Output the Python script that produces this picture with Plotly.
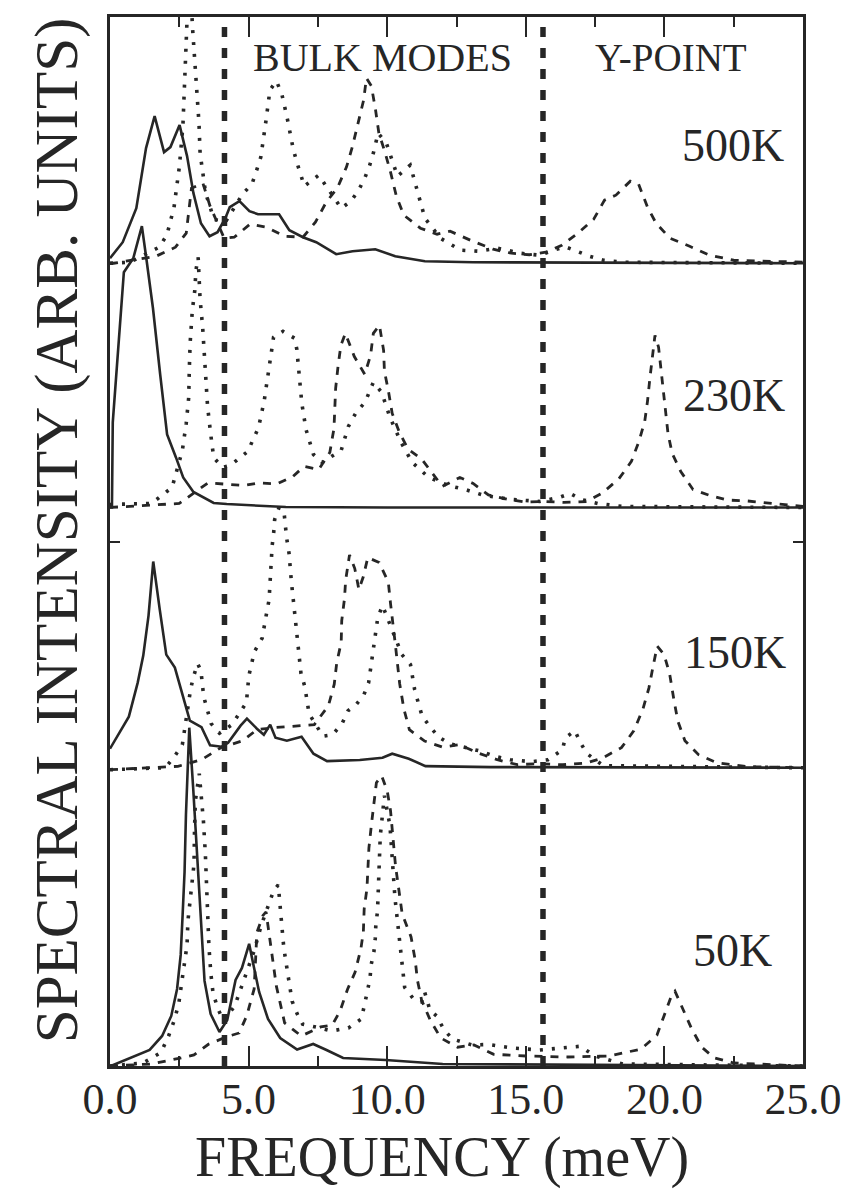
import numpy as np
import plotly.graph_objects as go

# ---- spectra: frequency (meV) and intensity above each panel's baseline (arb. units) ----
# 500 K
f500_solid = [0.0, 0.46, 0.95, 1.30, 1.61, 1.95, 2.18, 2.51, 2.78, 3.01, 3.28, 3.59, 3.88, 4.16, 4.32, 4.67,
              5.03, 5.34, 6.10, 6.47, 6.96, 7.44, 8.16, 8.75, 9.57, 10.29, 11.36, 13.1, 25.0]
i500_solid = [5, 21, 55, 115, 147, 111, 116, 138, 107, 70, 40, 27, 31, 45, 56, 62,
              52, 49, 49, 33, 26, 21, 9, 12, 14, 7, 2, 1, 0]
f500_dot = [0.0, 0.72, 1.77, 2.05, 2.31, 2.50, 2.63, 2.69, 2.74, 2.86, 2.98, 3.09, 3.21, 3.25, 3.45, 3.75,
            4.16, 4.78, 5.12, 5.28, 5.44, 5.63, 5.77, 6.00, 6.19, 6.40, 6.61, 6.75, 7.01, 7.53, 7.84, 8.34,
            8.69, 8.97, 9.19, 9.37, 9.51, 9.67, 9.97, 10.37, 10.83, 10.96, 11.1, 11.22, 11.36, 11.92, 12.65,
            13.3, 14.0, 14.8, 15.5, 15.96, 16.42, 16.84, 17.3, 17.8, 18.5, 25.0]
i500_dot = [0, 1, 16, 28, 56, 96, 137, 180, 235, 300, 234, 194, 140, 110, 70, 44,
            41, 69, 79, 92, 106, 143, 173, 182, 170, 144, 114, 100, 77, 88, 75, 55,
            62, 73, 85, 98, 111, 130, 120, 87, 98, 85, 71, 58, 45, 25, 13,
            12, 15, 10, 8, 12.6, 16.5, 12, 7, 3, 1, 0]
f500_dash = [0.0, 0.13, 1.66, 2.36, 2.75, 2.94, 3.35, 3.61, 4.12, 4.48, 5.05, 5.64, 6.31, 6.96, 7.41, 7.80,
             8.20, 8.53, 8.74, 8.95, 9.15, 9.25, 9.43, 9.58, 9.70, 9.93, 10.13, 10.33, 10.60, 11.2, 11.8,
             12.27, 13.0, 13.82, 14.48, 15.13, 15.72, 16.3, 16.88, 17.45, 17.84, 18.25, 18.77, 19.07, 19.39,
             19.70, 20.2, 20.91, 21.63, 22.5, 25.0]
i500_dash = [0, 0, 7, 16, 30, 75, 80, 57, 25, 26, 39, 36, 27, 26, 41, 61,
             75, 96, 116, 139, 163, 185, 177, 153, 130, 110, 90, 67, 48, 35, 29,
             32, 23, 14, 10, 8.5, 11, 18, 30, 44, 63, 68, 82, 79, 56,
             40, 25, 17, 8, 3, 1]

# 230 K
f230_solid = [0.0, 0.07, 0.10, 0.50, 0.84, 1.15, 1.31, 1.55, 1.81, 2.06, 2.38, 2.64, 3.01, 3.74, 4.21, 6.34,
              10.0, 25.0]
i230_solid = [0, 0, 85, 235, 249, 281, 249, 199, 133, 73, 50, 30, 15.5, 4.5, 3.4, 0.4,
              0, 0]
f230_dot = [0.0, 1.5, 2.24, 2.61, 2.75, 2.84, 2.86, 2.89, 2.97, 3.06, 3.10, 3.18, 3.25, 3.34, 3.43, 3.52,
            3.63, 3.74, 4.05, 4.34, 4.97, 5.36, 5.56, 5.75, 5.90, 6.24, 6.66, 6.74, 6.83, 6.92, 7.07, 7.34,
            7.65, 8.34, 8.60, 8.88, 9.20, 9.50, 9.80, 10.1, 10.5, 10.9, 11.5, 12.2, 12.8, 13.5, 14.5, 15.5,
            16.2, 16.6, 17.0, 17.6, 18.5, 25.0]
i230_dot = [3, 4, 20, 57, 84, 110, 137, 164, 197, 217, 237, 250, 208, 181, 141, 101,
            74, 50, 40, 42, 56, 80, 106, 145, 170, 176, 169, 158, 131, 104, 78, 53,
            45, 57, 81, 95, 105, 125, 115, 90, 65, 45, 30, 22, 18, 12, 8, 6,
            10, 14, 8, 4, 1, 0]
f230_dash = [0.0, 2.5, 3.53, 4.3, 4.83, 5.36, 6.02, 6.6, 7.0, 7.53, 7.93, 8.08, 8.14, 8.23, 8.33, 8.49,
             8.81, 9.19, 9.40, 9.50, 9.72, 9.87, 9.90, 10.04, 10.18, 10.44, 10.76, 11.24, 11.61, 11.99, 12.62,
             13.1, 13.65, 14.37, 14.96, 15.67, 16.38, 17.2, 17.78, 18.36, 18.81, 19.08, 19.29, 19.39, 19.48,
             19.57, 19.66, 19.79, 19.88, 20.0, 20.13, 20.28, 20.59, 21.03, 21.63, 22.28, 23.0, 25.0]
i230_dash = [0, 4, 24.5, 23, 22, 24.5, 23.5, 31, 41, 38, 55, 79, 119, 142, 162, 174,
             151, 133, 152, 174, 182, 157, 136, 117, 94, 75, 58, 48.5, 35.5, 21, 30,
             24, 12.5, 8, 5.4, 6, 5, 5.9, 14.8, 28.7, 46, 66, 86, 106, 130,
             150, 172, 160, 137, 110, 74, 54, 36, 18, 12, 7.4, 6.5, 1]

# 150 K
f150_solid = [0.0, 0.68, 1.0, 1.2, 1.39, 1.56, 1.79, 2.03, 2.34, 2.61, 2.88, 3.30, 3.61, 4.03, 4.26, 4.71,
              4.94, 5.30, 5.55, 5.78, 5.97, 6.38, 6.68, 6.91, 7.34, 7.83, 9.01, 9.83, 10.18, 10.78, 11.38,
              13.74, 25.0]
i150_solid = [21, 53, 87, 114, 154, 208, 161, 115, 102, 75, 49, 42.5, 24.5, 23, 27, 44,
              51, 41, 35, 45, 32, 29, 31, 33, 16, 8.6, 9.7, 12, 16, 11, 3.6,
              2.6, 2]
f150_dot = [0.0, 2.0, 2.32, 2.61, 2.9, 3.0, 3.16, 3.28, 3.38, 3.51, 3.65, 3.95, 4.4, 4.92, 5.01, 5.21,
            5.49, 5.64, 5.74, 5.77, 5.79, 5.81, 5.85, 5.90, 5.94, 6.1, 6.29, 6.37, 6.46, 6.54, 6.63, 6.71,
            6.80, 6.89, 7.03, 7.18, 7.68, 8.03, 8.37, 8.59, 8.88, 9.16, 9.33, 9.47, 9.57, 9.66, 9.83, 10.1,
            10.53, 10.84, 10.92, 10.99, 11.12, 11.26, 11.57, 11.87, 12.24, 12.66, 13.3, 13.97, 14.44, 15.2,
            15.8, 16.32, 16.43, 16.77, 16.97, 17.21, 17.8, 25.0]
i150_dot = [0, 2, 13, 25, 79, 92, 106, 99, 73, 60, 46, 36.5, 45, 67, 94, 118,
            131.5, 155, 170, 185, 197, 210, 224, 235, 250, 262, 254, 232, 216, 189, 166, 149,
            123, 96, 83, 56, 33.5, 35, 46, 59, 65, 75, 87, 114, 129, 152, 164, 145,
            115, 105, 93, 80, 67, 53.5, 42, 32.5, 26, 23, 19, 12.8, 10, 8,
            10, 20, 32, 39, 27, 16, 4, 2]
f150_dash = [0.0, 1.75, 2.45, 3.3, 4.0, 4.79, 5.3, 5.9, 6.96, 7.37, 7.88, 8.09, 8.18, 8.34, 8.36, 8.46,
             8.50, 8.64, 8.83, 8.98, 9.14, 9.30, 9.71, 10.04, 10.12, 10.2, 10.29, 10.37, 10.45, 10.6, 10.8,
             11.35, 12.0, 12.6, 13.25, 13.97, 14.69, 15.4, 16.34, 17.17, 17.75, 18.45, 18.9, 19.23, 19.44,
             19.59, 19.74, 19.99, 20.19, 20.33, 20.48, 20.74, 21.23, 21.89, 23.0, 25.0]
i150_dash = [0, 2.7, 3.4, 10, 22, 29, 40, 42, 44, 45, 64, 85.5, 107, 127, 149, 171,
             189, 214.6, 201, 180, 193, 212, 207, 187.5, 166, 149, 126, 106, 86, 61, 40,
             28.6, 22.6, 25, 17, 10, 5, 6, 5, 6.6, 11.5, 22, 39, 61, 81.5,
             103, 123.5, 115, 95.6, 72, 49, 29, 15, 7, 3, 2]

# 50 K
f50_solid = [0.03, 0.85, 1.43, 1.88, 2.21, 2.42, 2.55, 2.62, 2.69, 2.74, 2.77, 2.86, 3.0, 3.14, 3.28, 3.41,
             3.63, 3.95, 4.23, 4.53, 4.76, 5.02, 5.16, 5.38, 5.70, 6.14, 6.75, 7.33, 7.81, 8.41, 9.94, 12.0,
             25.0]
i50_solid = [0, 9, 16, 30, 50, 77, 111, 151, 194, 251, 278, 338, 278, 212, 145, 85,
             52, 34, 46, 86, 98, 122, 103, 74, 47, 28, 16.5, 22, 16, 8, 6, 2,
             0]
f50_dot = [0.0, 1.2, 1.84, 2.12, 2.34, 2.49, 2.59, 2.68, 2.78, 2.81, 2.90, 3.03, 3.05, 3.08, 3.22, 3.31,
           3.37, 3.44, 3.48, 3.52, 3.57, 3.64, 3.72, 3.92, 4.1, 4.5, 4.9, 5.2, 5.45, 5.7, 5.9, 6.07,
           6.18, 6.27, 6.42, 6.57, 6.76, 6.95, 7.43, 8.0, 8.6, 9.07, 9.28, 9.38, 9.42, 9.52, 9.57, 9.59,
           9.65, 9.68, 9.75, 9.9, 10.1, 10.28, 10.37, 10.46, 10.5, 10.55, 10.63, 10.94, 11.24, 11.35, 11.54,
           11.79, 12.04, 12.35, 13.06, 13.65, 14.5, 15.5, 16.3, 16.96, 17.5, 18.5, 25.0]
i50_dot = [0, 3, 13.5, 30.4, 47.3, 64, 84, 101, 121, 144.6, 168, 201.5, 238, 265, 292, 268.5,
           245, 212, 178.6, 145, 118.6, 92, 72, 55.5, 45, 60, 90, 115, 140, 160, 175, 181,
           144, 118, 91, 64.7, 51.6, 41.8, 38.9, 35, 38, 47, 74, 87.5, 101, 114, 127.7, 141,
           154.5, 181, 230, 270, 240, 168, 145, 125, 112, 98.6, 78.6, 67.3, 64, 74, 56,
           49.7, 36.7, 27, 21, 21.5, 18, 16, 18, 19.7, 10, 2, 0]
f50_dash = [0.0, 1.5, 2.44, 3.03, 3.55, 4.19, 4.66, 4.93, 5.2, 5.3, 5.52, 5.63, 5.8, 6.0, 6.3, 6.9,
            7.6, 8.02, 8.3, 8.57, 8.84, 9.05, 9.14, 9.17, 9.27, 9.34, 9.43, 9.52, 9.61, 9.8, 10.0, 10.12,
            10.3, 10.54, 10.86, 11.01, 11.09, 11.24, 11.55, 11.93, 12.54, 13.13, 13.84, 15.0, 16.5, 18.0,
            19.15, 19.73, 20.0, 20.27, 20.38, 20.64, 20.96, 21.34, 21.8, 22.5, 25.0]
i50_dash = [0, 2, 7.4, 11, 21.7, 29, 33, 50, 77, 133.6, 150.5, 154, 120, 80, 43, 30,
            39, 41, 55, 76.7, 93.6, 117, 134, 157, 177.4, 217.6, 241, 261, 283, 290, 275, 255,
            200, 152, 129, 105.7, 85.8, 66, 46, 28, 18.8, 21, 11.7, 10, 9, 10,
            16.8, 30.8, 51, 71.3, 74.8, 58, 38.6, 19, 8, 3, 0]

# vertical stacking of the four temperatures
temperatures = ["500K", "230K", "150K", "50K"]
offsets = [802, 558, 296, 0]

# region boundaries (meV): bulk modes between them, Y-point beyond the second
region_edges = [4.13, 15.62]

Y_TOP = 1048
INK = "#262626"
SERIF = "Liberation Serif, Times New Roman, Times, serif"

series = {
    "500K": [(f500_solid, i500_solid), (f500_dot, i500_dot), (f500_dash, i500_dash)],
    "230K": [(f230_solid, i230_solid), (f230_dot, i230_dot), (f230_dash, i230_dash)],
    "150K": [(f150_solid, i150_solid), (f150_dot, i150_dot), (f150_dash, i150_dash)],
    "50K": [(f50_solid, i50_solid), (f50_dot, i50_dot), (f50_dash, i50_dash)],
}
styles = [
    dict(color=INK, width=2.6),
    dict(color=INK, width=3.6, dash="3px,9px"),
    dict(color=INK, width=2.8, dash="8px,8px"),
]

fig = go.Figure()

for t, off in zip(temperatures, offsets):
    for (fx, iy), st in zip(series[t], styles):
        fig.add_trace(go.Scatter(
            x=fx, y=np.asarray(iy, dtype=float) + off,
            mode="lines", line=st, showlegend=False, hoverinfo="skip",
        ))

for edge in region_edges:
    fig.add_trace(go.Scatter(
        x=[edge, edge], y=[0, Y_TOP], mode="lines",
        line=dict(color=INK, width=5.5, dash="10px,11px"),
        showlegend=False, hoverinfo="skip",
    ))

# temperature labels placed inside each panel
label_x = [22.48, 22.5, 22.56, 22.46]
label_y = [920, 670, 413, 115]
for t, lx, ly in zip(temperatures, label_x, label_y):
    fig.add_annotation(x=lx, y=ly, text=t, showarrow=False,
                       xanchor="center", yanchor="middle",
                       font=dict(family=SERIF, size=46, color=INK))

fig.add_annotation(x=9.82, y=1008, text="BULK MODES", showarrow=False,
                   xanchor="center", yanchor="middle",
                   font=dict(family=SERIF, size=40, color=INK))
fig.add_annotation(x=20.24, y=1008, text="Y-POINT", showarrow=False,
                   xanchor="center", yanchor="middle",
                   font=dict(family=SERIF, size=39, color=INK))

fig.add_annotation(xref="paper", yref="paper", x=-0.076, y=0.511,
                   xanchor="center", yanchor="middle",
                   text="SPECTRAL INTENSITY (ARB. UNITS)", textangle=-90,
                   showarrow=False, font=dict(family=SERIF, size=61, color=INK))
fig.add_annotation(xref="paper", yref="paper", x=0.479, y=-0.087,
                   xanchor="center", yanchor="middle",
                   text="FREQUENCY (meV)", showarrow=False,
                   font=dict(family=SERIF, size=56, color=INK))

fig.update_xaxes(
    range=[0, 25], dtick=5, tick0=0, tickformat=".1f",
    ticks="inside", ticklen=20, tickwidth=2, tickcolor=INK,
    minor=dict(ticks="inside", dtick=2.5, ticklen=10, tickwidth=2, tickcolor=INK),
    showline=True, linewidth=2.6, linecolor=INK, mirror="ticks",
    showgrid=False, zeroline=False,
    ticklabelstandoff=-8, ticklabeloverflow="allow",
    tickfont=dict(family=SERIF, size=44, color=INK),
)
fig.update_yaxes(
    range=[0, Y_TOP], tickvals=[Y_TOP / 2], showticklabels=False,
    ticks="inside", ticklen=10, tickwidth=2, tickcolor=INK,
    showline=True, linewidth=2.6, linecolor=INK, mirror="ticks",
    showgrid=False, zeroline=False,
)

fig.update_layout(
    width=854, height=1195, autosize=False,
    margin=dict(l=110, r=38, t=17, b=129),
    paper_bgcolor="white", plot_bgcolor="white",
    font=dict(family=SERIF, color=INK),
)

fig.write_html("out.html")
